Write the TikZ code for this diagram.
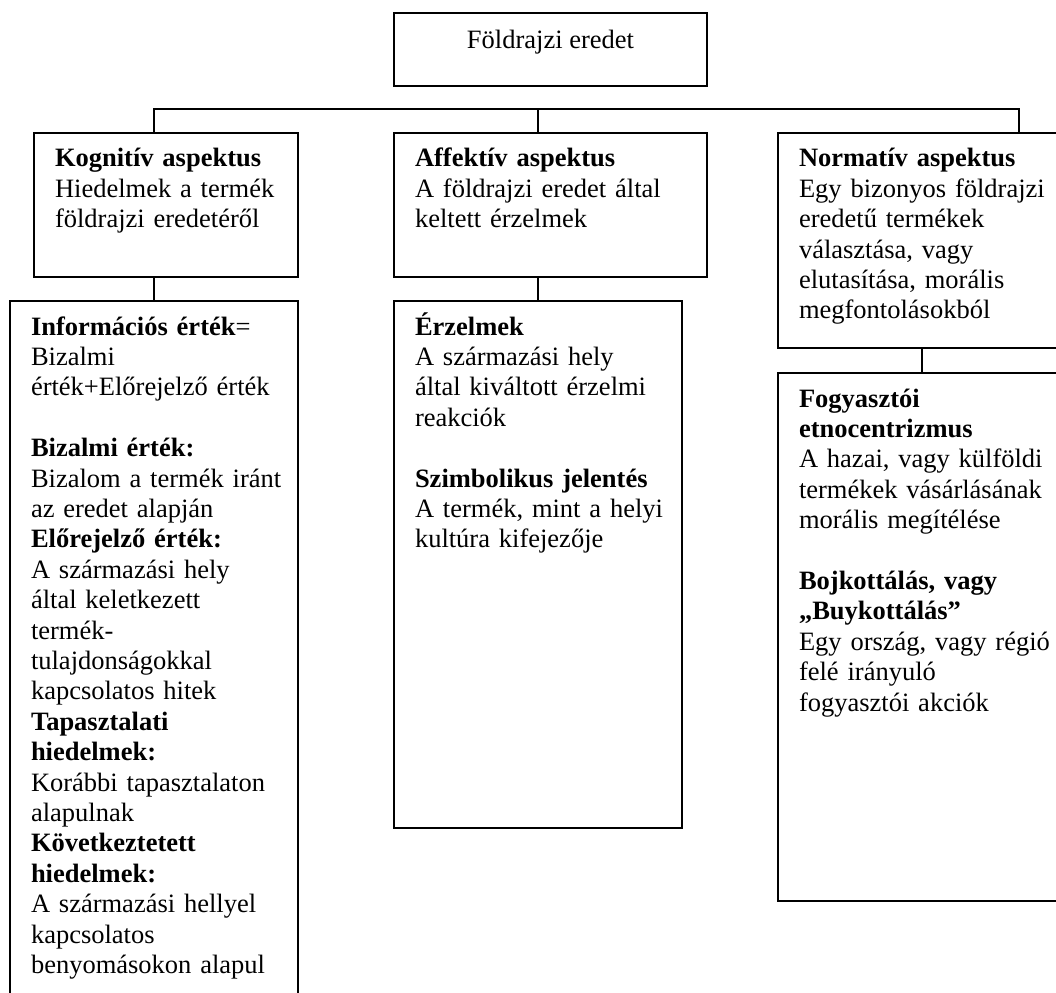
\documentclass[tikz,border=0pt]{standalone}
\usepackage{fontspec}
\setmainfont{Liberation Serif}
\usetikzlibrary{calc}

\tikzset{
  box/.style={draw, line width=2.2pt, inner sep=0pt, outer sep=0pt, anchor=north west},
  txt/.style={anchor=base west, inner sep=0pt, outer sep=0pt, align=left, text width=420pt,
              font=\fontsize{26.5}{30.4}\selectfont},
  link/.style={line width=2.2pt, line join=miter}
}

\begin{document}
\begin{tikzpicture}[x=1pt, y=-1pt]
  \useasboundingbox (0,0) rectangle (1056,992);
  \clip (0,0) rectangle (1056,992);

  % boxes
  \node[box, minimum width=313pt, minimum height=73pt]  (root) at (394,13)  {};
  \node[box, minimum width=264pt, minimum height=144pt] (kog)  at (34,133)  {};
  \node[box, minimum width=313pt, minimum height=144pt] (aff)  at (394,133) {};
  \node[box, minimum width=482pt, minimum height=215pt] (norm) at (778,133) {};
  \node[box, minimum width=288pt, minimum height=720pt] (info) at (10,301)  {};
  \node[box, minimum width=288pt, minimum height=527pt] (erz)  at (394,301) {};
  \node[box, minimum width=288pt, minimum height=528pt] (fogy) at (778,373) {};

  % connectors
  \coordinate (barL) at (154,109);
  \coordinate (barM) at (538,109);
  \coordinate (barR) at (1019,109);
  \draw[link] (barL |- kog.north) -- (barL) -- (barR) -- (barR |- norm.north);
  \draw[link] (barM) -- (barM |- aff.north);
  \draw[link] (info.north) -- (info.north |- kog.south);
  \draw[link] (erz.north) -- (erz.north |- aff.south);
  \draw[link] (fogy.north) -- (fogy.north |- norm.south);

  % texts
  \node[anchor=base, inner sep=0pt, font=\fontsize{26.5}{30.4}\selectfont] (rootT)
    at ($(root.north)+(0,36)$) {Földrajzi eredet};

  \node[txt] (kogT) at ($(kog.north west)+(21,34)$)
    {\textbf{Kognitív aspektus}\\Hiedelmek a termék\\földrajzi eredetéről};

  \node[txt] (affT) at ($(aff.north west)+(21,34)$)
    {\textbf{Affektív aspektus}\\A földrajzi eredet által\\keltett érzelmek};

  \node[txt] (normT) at ($(norm.north west)+(21,34)$)
    {\textbf{Normatív aspektus}\\Egy bizonyos földrajzi\\eredetű termékek\\választása, vagy\\elutasítása, morális\\megfontolásokból};

  \node[txt] (infoT) at ($(info.north west)+(21,34)$)
    {\textbf{Információs érték}=\\Bizalmi\\érték+Előrejelző érték\\\mbox{}\\
     \textbf{Bizalmi érték:}\\Bizalom a termék iránt\\az eredet alapján\\
     \textbf{Előrejelző érték:}\\A származási hely\\által keletkezett\\termék-\\tulajdonságokkal\\kapcsolatos hitek\\
     \textbf{Tapasztalati}\\\textbf{hiedelmek:}\\Korábbi tapasztalaton\\alapulnak\\
     \textbf{Következtetett}\\\textbf{hiedelmek:}\\A származási hellyel\\kapcsolatos\\benyomásokon alapul};

  \node[txt] (erzT) at ($(erz.north west)+(21,34)$)
    {\textbf{Érzelmek}\\A származási hely\\által kiváltott érzelmi\\reakciók\\\mbox{}\\
     \textbf{Szimbolikus jelentés}\\A termék, mint a helyi\\kultúra kifejezője};

  \node[txt] (fogyT) at ($(fogy.north west)+(21,34)$)
    {\textbf{Fogyasztói}\\\textbf{etnocentrizmus}\\A hazai, vagy külföldi\\termékek vásárlásának\\morális megítélése\\\mbox{}\\
     \textbf{Bojkottálás, vagy}\\\textbf{„Buykottálás”}\\Egy ország, vagy régió\\felé irányuló\\fogyasztói akciók};
\end{tikzpicture}
\end{document}
